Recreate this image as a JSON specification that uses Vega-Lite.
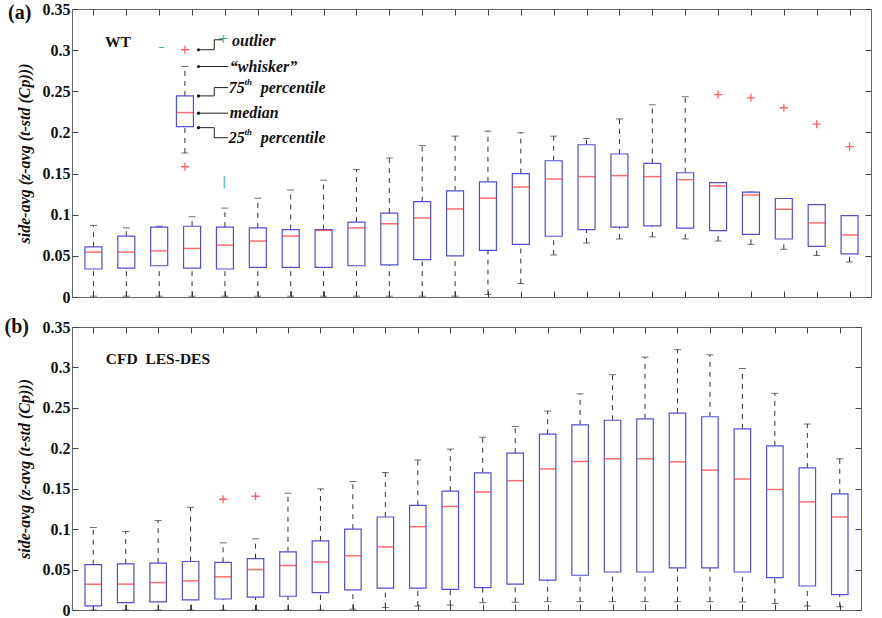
{
  "$schema": "https://vega.github.io/schema/vega-lite/v6.json",
  "padding": {"left": 4, "top": 0, "right": 4, "bottom": 4},
  "spacing": 10,
  "config": {
    "view": {"stroke": "#666", "strokeWidth": 1},
    "axis": {"domain": false, "grid": false, "tickColor": "#444", "tickWidth": 1,
      "labelFont": "Liberation Serif, serif", "labelFontWeight": "bold", "labelFontSize": 16, "labelColor": "#111",
      "titleFont": "Liberation Serif, serif", "titleFontStyle": "italic", "titleFontWeight": "bold", "titleFontSize": 16, "titleColor": "#111"}
  },
  "datasets": {
    "wt_box": [
      {"i": 1, "lo": 0.001, "q1": 0.034, "med": 0.0545, "q3": 0.061, "hi": 0.087},
      {"i": 2, "lo": 0.001, "q1": 0.035, "med": 0.0545, "q3": 0.074, "hi": 0.084},
      {"i": 3, "lo": 0.001, "q1": 0.038, "med": 0.056, "q3": 0.085, "hi": 0.086},
      {"i": 4, "lo": 0.001, "q1": 0.035, "med": 0.059, "q3": 0.086, "hi": 0.0975},
      {"i": 5, "lo": 0.001, "q1": 0.034, "med": 0.063, "q3": 0.085, "hi": 0.108},
      {"i": 6, "lo": 0.001, "q1": 0.036, "med": 0.068, "q3": 0.084, "hi": 0.120},
      {"i": 7, "lo": 0.001, "q1": 0.036, "med": 0.074, "q3": 0.082, "hi": 0.130},
      {"i": 8, "lo": 0.001, "q1": 0.036, "med": 0.081, "q3": 0.082, "hi": 0.142},
      {"i": 9, "lo": 0.001, "q1": 0.038, "med": 0.084, "q3": 0.091, "hi": 0.155},
      {"i": 10, "lo": 0.001, "q1": 0.039, "med": 0.089, "q3": 0.102, "hi": 0.169},
      {"i": 11, "lo": 0.001, "q1": 0.0455, "med": 0.096, "q3": 0.116, "hi": 0.184},
      {"i": 12, "lo": 0.001, "q1": 0.050, "med": 0.107, "q3": 0.129, "hi": 0.1955},
      {"i": 13, "lo": 0.003, "q1": 0.0566, "med": 0.120, "q3": 0.140, "hi": 0.2016},
      {"i": 14, "lo": 0.0164, "q1": 0.064, "med": 0.1336, "q3": 0.150, "hi": 0.1996},
      {"i": 15, "lo": 0.051, "q1": 0.0738, "med": 0.1434, "q3": 0.1656, "hi": 0.1955},
      {"i": 16, "lo": 0.0656, "q1": 0.082, "med": 0.1463, "q3": 0.185, "hi": 0.1926},
      {"i": 17, "lo": 0.0705, "q1": 0.0848, "med": 0.1475, "q3": 0.1738, "hi": 0.2164},
      {"i": 18, "lo": 0.073, "q1": 0.0865, "med": 0.1463, "q3": 0.1623, "hi": 0.2336},
      {"i": 19, "lo": 0.0705, "q1": 0.0836, "med": 0.1426, "q3": 0.151, "hi": 0.2434},
      {"i": 20, "lo": 0.068, "q1": 0.0807, "med": 0.135, "q3": 0.139, "hi": 0.139},
      {"i": 21, "lo": 0.064, "q1": 0.076, "med": 0.124, "q3": 0.1275, "hi": 0.1275},
      {"i": 22, "lo": 0.058, "q1": 0.0705, "med": 0.1066, "q3": 0.1197, "hi": 0.1197},
      {"i": 23, "lo": 0.0504, "q1": 0.0615, "med": 0.090, "q3": 0.1123, "hi": 0.1123},
      {"i": 24, "lo": 0.0426, "q1": 0.0525, "med": 0.0754, "q3": 0.0988, "hi": 0.0988},
      {"i": 3.783, "lo": 0.175, "q1": 0.207, "med": 0.2241, "q3": 0.2444, "hi": 0.2801, "role": "key"}
    ],
    "wt_out": [
      {"i": 20, "v": 0.246}, {"i": 21, "v": 0.242}, {"i": 22, "v": 0.230}, {"i": 23, "v": 0.210}, {"i": 24, "v": 0.1828},
      {"i": 3.783, "v": 0.3005, "role": "key"}, {"i": 3.783, "v": 0.1583, "role": "key"}
    ],
    "cfd_box": [
      {"i": 1, "lo": 0.0, "q1": 0.005, "med": 0.032, "q3": 0.056, "hi": 0.102},
      {"i": 2, "lo": 0.0, "q1": 0.009, "med": 0.032, "q3": 0.057, "hi": 0.097},
      {"i": 3, "lo": 0.0, "q1": 0.010, "med": 0.034, "q3": 0.058, "hi": 0.1106},
      {"i": 4, "lo": 0.0, "q1": 0.0124, "med": 0.036, "q3": 0.060, "hi": 0.127},
      {"i": 5, "lo": 0.0, "q1": 0.0136, "med": 0.041, "q3": 0.059, "hi": 0.083},
      {"i": 6, "lo": 0.0, "q1": 0.016, "med": 0.050, "q3": 0.0635, "hi": 0.088},
      {"i": 7, "lo": 0.0, "q1": 0.017, "med": 0.055, "q3": 0.072, "hi": 0.1444},
      {"i": 8, "lo": 0.0, "q1": 0.0215, "med": 0.0594, "q3": 0.0854, "hi": 0.1498},
      {"i": 9, "lo": 0.001, "q1": 0.0248, "med": 0.067, "q3": 0.100, "hi": 0.159},
      {"i": 10, "lo": 0.003, "q1": 0.027, "med": 0.078, "q3": 0.115, "hi": 0.170},
      {"i": 11, "lo": 0.005, "q1": 0.027, "med": 0.103, "q3": 0.1295, "hi": 0.1856},
      {"i": 12, "lo": 0.006, "q1": 0.0256, "med": 0.128, "q3": 0.147, "hi": 0.199},
      {"i": 13, "lo": 0.009, "q1": 0.0276, "med": 0.146, "q3": 0.1696, "hi": 0.2137},
      {"i": 14, "lo": 0.0095, "q1": 0.032, "med": 0.160, "q3": 0.194, "hi": 0.227},
      {"i": 15, "lo": 0.0103, "q1": 0.037, "med": 0.1745, "q3": 0.2174, "hi": 0.246},
      {"i": 16, "lo": 0.0103, "q1": 0.043, "med": 0.1836, "q3": 0.229, "hi": 0.2673},
      {"i": 17, "lo": 0.0103, "q1": 0.047, "med": 0.187, "q3": 0.2347, "hi": 0.291},
      {"i": 18, "lo": 0.0103, "q1": 0.047, "med": 0.187, "q3": 0.2364, "hi": 0.3127},
      {"i": 19, "lo": 0.0103, "q1": 0.052, "med": 0.1832, "q3": 0.2434, "hi": 0.322},
      {"i": 20, "lo": 0.0103, "q1": 0.052, "med": 0.173, "q3": 0.239, "hi": 0.3156},
      {"i": 21, "lo": 0.01, "q1": 0.047, "med": 0.162, "q3": 0.224, "hi": 0.2987},
      {"i": 22, "lo": 0.008, "q1": 0.040, "med": 0.149, "q3": 0.203, "hi": 0.268},
      {"i": 23, "lo": 0.005, "q1": 0.0297, "med": 0.1337, "q3": 0.1757, "hi": 0.230},
      {"i": 24, "lo": 0.004, "q1": 0.019, "med": 0.115, "q3": 0.1436, "hi": 0.187}
    ],
    "cfd_out": [{"i": 5, "v": 0.137}, {"i": 6, "v": 0.1407}],
    "wt_panel": [{"i": -1.242, "v": 0.345, "t": "(a)"}],
    "wt_case": [{"i": 1.747, "v": 0.310, "t": "WT"}],
    "cfd_panel": [{"i": -1.355, "v": 0.350, "t": "(b)"}],
    "cfd_case": [{"i": 2.994, "v": 0.311, "t": "CFD\u00a0 LES-DES"}],
    "key_lines": [
      {"i": 4.195, "v": 0.3005, "i2": 4.675, "v2": 0.3005},
      {"i": 4.675, "v": 0.3005, "i2": 4.675, "v2": 0.3126},
      {"i": 4.675, "v": 0.3126, "i2": 4.946, "v2": 0.3126},
      {"i": 4.195, "v": 0.2801, "i2": 5.1, "v2": 0.2801},
      {"i": 4.195, "v": 0.2444, "i2": 4.675, "v2": 0.2444},
      {"i": 4.675, "v": 0.2444, "i2": 4.675, "v2": 0.2545},
      {"i": 4.675, "v": 0.2545, "i2": 5.1, "v2": 0.2545},
      {"i": 4.195, "v": 0.2234, "i2": 5.1, "v2": 0.2234},
      {"i": 4.195, "v": 0.2058, "i2": 4.675, "v2": 0.2058},
      {"i": 4.675, "v": 0.2058, "i2": 4.675, "v2": 0.1936},
      {"i": 4.675, "v": 0.1936, "i2": 5.1, "v2": 0.1936}
    ],
    "key_dots": [
      {"i": 4.195, "v": 0.3005}, {"i": 4.195, "v": 0.2801}, {"i": 4.195, "v": 0.2444}, {"i": 4.195, "v": 0.2234}, {"i": 4.195, "v": 0.2058}
    ],
    "key_labels": [
      {"i": 5.216, "v": 0.3106, "t": "outlier"},
      {"i": 5.147, "v": 0.2801, "t": "\u201cwhisker\u201d"},
      {"i": 5.117, "v": 0.2545, "t": "75"},
      {"i": 6.087, "v": 0.2545, "t": "percentile"},
      {"i": 5.147, "v": 0.2234, "t": "median"},
      {"i": 5.117, "v": 0.1929, "t": "25"},
      {"i": 6.087, "v": 0.1929, "t": "percentile"}
    ],
    "key_sup": [
      {"i": 5.592, "v": 0.2618, "t": "th"},
      {"i": 5.592, "v": 0.2002, "t": "th"}
    ],
    "teal": [
      {"i": 3.074, "v": 0.3033, "t": "\u2013"},
      {"i": 4.946, "v": 0.3139, "t": "+"},
      {"i": 4.976, "v": 0.140, "t": "|"}
    ]
  },
  "vconcat": [
    {
      "width": 799,
      "height": 288,
      "resolve": {"axis": {"x": "independent", "y": "independent"}},
      "layer": [
        {
          "data": {"name": "wt_box"},
          "mark": {"type": "rule", "color": "#333", "strokeWidth": 1, "strokeDash": [5, 5]},
          "encoding": {
            "x": {"field": "i", "type": "quantitative", "scale": {"domain": [0.5, 24.5], "nice": false, "zero": false},
              "axis": {"orient": "bottom", "values": [1,2,3,4,5,6,7,8,9,10,11,12,13,14,15,16,17,18,19,20,21,22,23,24], "labels": false, "tickSize": -6, "title": null}},
            "y": {"field": "q3", "type": "quantitative", "scale": {"domain": [0, 0.35], "nice": false, "zero": false},
              "axis": {"orient": "left", "values": [0, 0.05, 0.1, 0.15, 0.2, 0.25, 0.3, 0.35], "format": ".2~f", "tickSize": -6, "labelPadding": 8, "title": "side-avg (z-avg (t-std (Cp)))", "titlePadding": 10}},
            "y2": {"field": "hi"}
          }
        },
        {
          "data": {"name": "wt_box"},
          "mark": {"type": "rule", "color": "#333", "strokeWidth": 1, "strokeDash": [5, 5]},
          "encoding": {
            "x": {"field": "i", "type": "quantitative", "scale": {"domain": [0.5, 24.5], "nice": false, "zero": false},
              "axis": {"orient": "top", "values": [1,2,3,4,5,6,7,8,9,10,11,12,13,14,15,16,17,18,19,20,21,22,23,24], "labels": false, "tickSize": -6, "title": null}},
            "y": {"field": "lo", "type": "quantitative", "scale": {"domain": [0, 0.35], "nice": false, "zero": false},
              "axis": {"orient": "right", "values": [0, 0.05, 0.1, 0.15, 0.2, 0.25, 0.3, 0.35], "labels": false, "tickSize": -6, "title": null}},
            "y2": {"field": "q1"}
          }
        },
        {
          "data": {"name": "wt_box"},
          "mark": {"type": "tick", "orient": "horizontal", "color": "#333", "size": 7, "thickness": 1},
          "encoding": {
            "x": {"field": "i", "type": "quantitative", "scale": {"domain": [0.5, 24.5], "nice": false, "zero": false}, "axis": null},
            "y": {"field": "hi", "type": "quantitative", "scale": {"domain": [0, 0.35], "nice": false, "zero": false}, "axis": null}
          }
        },
        {
          "data": {"name": "wt_box"},
          "mark": {"type": "tick", "orient": "horizontal", "color": "#333", "size": 7, "thickness": 1},
          "encoding": {
            "x": {"field": "i", "type": "quantitative", "scale": {"domain": [0.5, 24.5], "nice": false, "zero": false}, "axis": null},
            "y": {"field": "lo", "type": "quantitative", "scale": {"domain": [0, 0.35], "nice": false, "zero": false}, "axis": null}
          }
        },
        {
          "data": {"name": "wt_box"},
          "mark": {"type": "bar", "size": 17, "fill": "white", "stroke": "#5050cc", "strokeWidth": 1.2},
          "encoding": {
            "x": {"field": "i", "type": "quantitative", "scale": {"domain": [0.5, 24.5], "nice": false, "zero": false}, "axis": null},
            "y": {"field": "q1", "type": "quantitative", "scale": {"domain": [0, 0.35], "nice": false, "zero": false}, "axis": null},
            "y2": {"field": "q3"}
          }
        },
        {
          "data": {"name": "wt_box"},
          "mark": {"type": "tick", "orient": "horizontal", "color": "#ff3030", "size": 17, "thickness": 1.5},
          "encoding": {
            "x": {"field": "i", "type": "quantitative", "scale": {"domain": [0.5, 24.5], "nice": false, "zero": false}, "axis": null},
            "y": {"field": "med", "type": "quantitative", "scale": {"domain": [0, 0.35], "nice": false, "zero": false}, "axis": null}
          }
        },
        {
          "data": {"name": "wt_out"},
          "mark": {"type": "point", "shape": "M-1,0H1M0,-1V1", "size": 64, "filled": false, "stroke": "#ff2020", "strokeWidth": 1.3},
          "encoding": {
            "x": {"field": "i", "type": "quantitative", "scale": {"domain": [0.5, 24.5], "nice": false, "zero": false}, "axis": null},
            "y": {"field": "v", "type": "quantitative", "scale": {"domain": [0, 0.35], "nice": false, "zero": false}, "axis": null}
          }
        },
        {
          "data": {"name": "key_lines"},
          "mark": {"type": "rule", "color": "#222", "strokeWidth": 1},
          "encoding": {
            "x": {"field": "i", "type": "quantitative", "scale": {"domain": [0.5, 24.5], "nice": false, "zero": false}, "axis": null},
            "x2": {"field": "i2"},
            "y": {"field": "v", "type": "quantitative", "scale": {"domain": [0, 0.35], "nice": false, "zero": false}, "axis": null},
            "y2": {"field": "v2"}
          }
        },
        {
          "data": {"name": "key_dots"},
          "mark": {"type": "point", "shape": "circle", "size": 10, "filled": true, "color": "#111", "opacity": 1},
          "encoding": {
            "x": {"field": "i", "type": "quantitative", "scale": {"domain": [0.5, 24.5], "nice": false, "zero": false}, "axis": null},
            "y": {"field": "v", "type": "quantitative", "scale": {"domain": [0, 0.35], "nice": false, "zero": false}, "axis": null}
          }
        },
        {
          "data": {"name": "key_labels"},
          "mark": {"type": "text", "align": "left", "baseline": "middle", "font": "Liberation Serif, serif", "fontSize": 16, "fontStyle": "italic", "fontWeight": "bold", "color": "#111"},
          "encoding": {
            "x": {"field": "i", "type": "quantitative", "scale": {"domain": [0.5, 24.5], "nice": false, "zero": false}, "axis": null},
            "y": {"field": "v", "type": "quantitative", "scale": {"domain": [0, 0.35], "nice": false, "zero": false}, "axis": null},
            "text": {"field": "t"}
          }
        },
        {
          "data": {"name": "key_sup"},
          "mark": {"type": "text", "align": "left", "baseline": "middle", "font": "Liberation Serif, serif", "fontSize": 9, "fontStyle": "italic", "fontWeight": "bold", "color": "#111"},
          "encoding": {
            "x": {"field": "i", "type": "quantitative", "scale": {"domain": [0.5, 24.5], "nice": false, "zero": false}, "axis": null},
            "y": {"field": "v", "type": "quantitative", "scale": {"domain": [0, 0.35], "nice": false, "zero": false}, "axis": null},
            "text": {"field": "t"}
          }
        },
        {
          "data": {"name": "teal"},
          "mark": {"type": "text", "align": "center", "baseline": "middle", "font": "DejaVu Sans", "fontSize": 13, "color": "#3cb494"},
          "encoding": {
            "x": {"field": "i", "type": "quantitative", "scale": {"domain": [0.5, 24.5], "nice": false, "zero": false}, "axis": null},
            "y": {"field": "v", "type": "quantitative", "scale": {"domain": [0, 0.35], "nice": false, "zero": false}, "axis": null},
            "text": {"field": "t"}
          }
        },
        {
          "data": {"name": "wt_panel"},
          "mark": {"type": "text", "align": "center", "baseline": "middle", "font": "Liberation Serif, serif", "fontSize": 20, "fontWeight": "bold", "color": "#111"},
          "encoding": {
            "x": {"field": "i", "type": "quantitative", "scale": {"domain": [0.5, 24.5], "nice": false, "zero": false}, "axis": null},
            "y": {"field": "v", "type": "quantitative", "scale": {"domain": [0, 0.35], "nice": false, "zero": false}, "axis": null},
            "text": {"field": "t"}
          }
        },
        {
          "data": {"name": "wt_case"},
          "mark": {"type": "text", "align": "center", "baseline": "middle", "font": "Liberation Serif, serif", "fontSize": 15.5, "fontWeight": "bold", "color": "#111"},
          "encoding": {
            "x": {"field": "i", "type": "quantitative", "scale": {"domain": [0.5, 24.5], "nice": false, "zero": false}, "axis": null},
            "y": {"field": "v", "type": "quantitative", "scale": {"domain": [0, 0.35], "nice": false, "zero": false}, "axis": null},
            "text": {"field": "t"}
          }
        }
      ]
    },
    {
      "width": 789,
      "height": 283,
      "resolve": {"axis": {"x": "independent", "y": "independent"}},
      "layer": [
        {
          "data": {"name": "cfd_box"},
          "mark": {"type": "rule", "color": "#333", "strokeWidth": 1, "strokeDash": [5, 5]},
          "encoding": {
            "x": {"field": "i", "type": "quantitative", "scale": {"domain": [0.5, 24.5], "nice": false, "zero": false},
              "axis": {"orient": "bottom", "values": [1,2,3,4,5,6,7,8,9,10,11,12,13,14,15,16,17,18,19,20,21,22,23,24], "labels": false, "tickSize": -6, "title": null}},
            "y": {"field": "q3", "type": "quantitative", "scale": {"domain": [0, 0.35], "nice": false, "zero": false},
              "axis": {"orient": "left", "values": [0, 0.05, 0.1, 0.15, 0.2, 0.25, 0.3, 0.35], "format": ".2~f", "tickSize": -6, "labelPadding": 8, "title": "side-avg (z-avg (t-std (Cp)))", "titlePadding": 10}},
            "y2": {"field": "hi"}
          }
        },
        {
          "data": {"name": "cfd_box"},
          "mark": {"type": "rule", "color": "#333", "strokeWidth": 1, "strokeDash": [5, 5]},
          "encoding": {
            "x": {"field": "i", "type": "quantitative", "scale": {"domain": [0.5, 24.5], "nice": false, "zero": false},
              "axis": {"orient": "top", "values": [1,2,3,4,5,6,7,8,9,10,11,12,13,14,15,16,17,18,19,20,21,22,23,24], "labels": false, "tickSize": -6, "title": null}},
            "y": {"field": "lo", "type": "quantitative", "scale": {"domain": [0, 0.35], "nice": false, "zero": false},
              "axis": {"orient": "right", "values": [0, 0.05, 0.1, 0.15, 0.2, 0.25, 0.3, 0.35], "labels": false, "tickSize": -6, "title": null}},
            "y2": {"field": "q1"}
          }
        },
        {
          "data": {"name": "cfd_box"},
          "mark": {"type": "tick", "orient": "horizontal", "color": "#333", "size": 7, "thickness": 1},
          "encoding": {
            "x": {"field": "i", "type": "quantitative", "scale": {"domain": [0.5, 24.5], "nice": false, "zero": false}, "axis": null},
            "y": {"field": "hi", "type": "quantitative", "scale": {"domain": [0, 0.35], "nice": false, "zero": false}, "axis": null}
          }
        },
        {
          "data": {"name": "cfd_box"},
          "mark": {"type": "tick", "orient": "horizontal", "color": "#333", "size": 7, "thickness": 1},
          "encoding": {
            "x": {"field": "i", "type": "quantitative", "scale": {"domain": [0.5, 24.5], "nice": false, "zero": false}, "axis": null},
            "y": {"field": "lo", "type": "quantitative", "scale": {"domain": [0, 0.35], "nice": false, "zero": false}, "axis": null}
          }
        },
        {
          "data": {"name": "cfd_box"},
          "mark": {"type": "bar", "size": 16.5, "fill": "white", "stroke": "#5050cc", "strokeWidth": 1.2},
          "encoding": {
            "x": {"field": "i", "type": "quantitative", "scale": {"domain": [0.5, 24.5], "nice": false, "zero": false}, "axis": null},
            "y": {"field": "q1", "type": "quantitative", "scale": {"domain": [0, 0.35], "nice": false, "zero": false}, "axis": null},
            "y2": {"field": "q3"}
          }
        },
        {
          "data": {"name": "cfd_box"},
          "mark": {"type": "tick", "orient": "horizontal", "color": "#ff3030", "size": 16.5, "thickness": 1.5},
          "encoding": {
            "x": {"field": "i", "type": "quantitative", "scale": {"domain": [0.5, 24.5], "nice": false, "zero": false}, "axis": null},
            "y": {"field": "med", "type": "quantitative", "scale": {"domain": [0, 0.35], "nice": false, "zero": false}, "axis": null}
          }
        },
        {
          "data": {"name": "cfd_out"},
          "mark": {"type": "point", "shape": "M-1,0H1M0,-1V1", "size": 64, "filled": false, "stroke": "#ff2020", "strokeWidth": 1.3},
          "encoding": {
            "x": {"field": "i", "type": "quantitative", "scale": {"domain": [0.5, 24.5], "nice": false, "zero": false}, "axis": null},
            "y": {"field": "v", "type": "quantitative", "scale": {"domain": [0, 0.35], "nice": false, "zero": false}, "axis": null}
          }
        },
        {
          "data": {"name": "cfd_panel"},
          "mark": {"type": "text", "align": "center", "baseline": "middle", "font": "Liberation Serif, serif", "fontSize": 20, "fontWeight": "bold", "color": "#111"},
          "encoding": {
            "x": {"field": "i", "type": "quantitative", "scale": {"domain": [0.5, 24.5], "nice": false, "zero": false}, "axis": null},
            "y": {"field": "v", "type": "quantitative", "scale": {"domain": [0, 0.35], "nice": false, "zero": false}, "axis": null},
            "text": {"field": "t"}
          }
        },
        {
          "data": {"name": "cfd_case"},
          "mark": {"type": "text", "align": "center", "baseline": "middle", "font": "Liberation Serif, serif", "fontSize": 15.5, "fontWeight": "bold", "color": "#111"},
          "encoding": {
            "x": {"field": "i", "type": "quantitative", "scale": {"domain": [0.5, 24.5], "nice": false, "zero": false}, "axis": null},
            "y": {"field": "v", "type": "quantitative", "scale": {"domain": [0, 0.35], "nice": false, "zero": false}, "axis": null},
            "text": {"field": "t"}
          }
        }
      ]
    }
  ]
}
